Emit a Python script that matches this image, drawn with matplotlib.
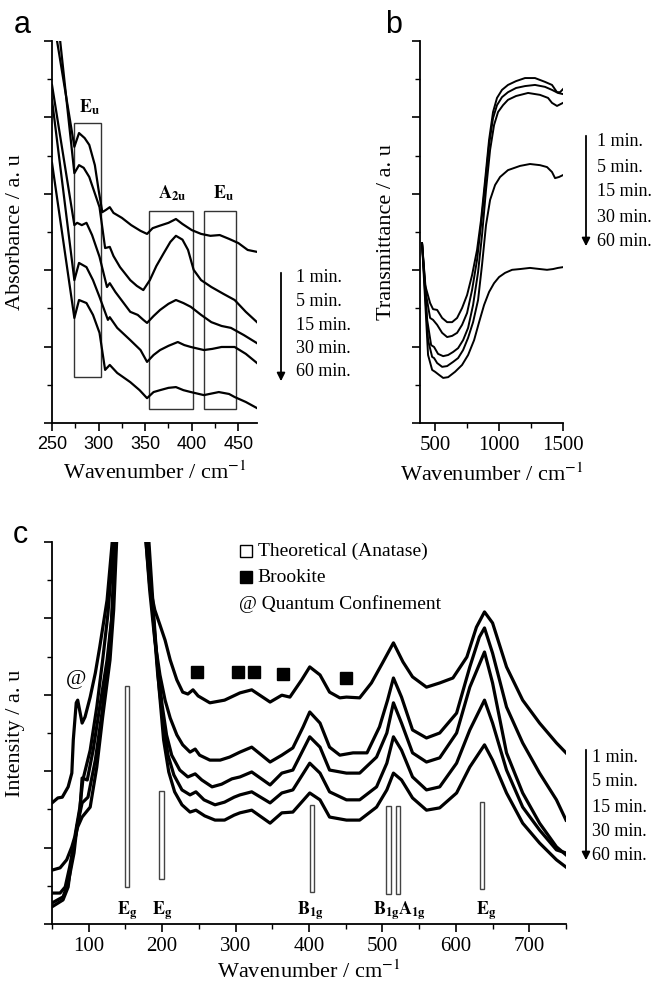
import numpy as np
import matplotlib
matplotlib.use("Agg")
import matplotlib.pyplot as plt
from matplotlib.ticker import MultipleLocator, NullFormatter
from matplotlib.patches import Rectangle

plt.rcParams['font.family'] = ['Liberation Serif', 'DejaVu Serif']
plt.rcParams['mathtext.fontset'] = 'stix'

times = ['1 min.', '5 min.', '15 min.', '30 min.', '60 min.']

# ---- panel a : absorbance ----
a_wn = [
    [250, 274, 279, 285, 290, 296, 300, 304, 308, 312, 316, 325, 335, 345, 352, 358, 365, 375, 383, 390, 400, 410, 420, 430, 440, 450, 460, 470],
    [250, 274, 279, 284, 290, 301, 307, 312, 316, 323, 334, 341, 348, 355, 362, 370, 377, 383, 390, 396, 402, 410, 421, 434, 446, 458, 470],
    [250, 274, 277, 282, 287, 293, 301, 309, 312, 318, 326, 334, 342, 348, 352, 359, 366, 375, 383, 391, 399, 410, 421, 432, 442, 456, 470],
    [250, 274, 279, 287, 294, 301, 310, 312, 320, 334, 345, 352, 359, 366, 375, 385, 392, 399, 413, 422, 432, 446, 458, 470],
    [250, 274, 279, 287, 294, 301, 307, 312, 320, 334, 344, 352, 359, 366, 375, 383, 391, 399, 413, 429, 440, 446, 458, 470],
]
a_abs = [
    [108.1, 72.3, 75.9, 74.6, 72.8, 67.5, 61.0, 55.2, 55.8, 56.5, 55.0, 53.7, 51.8, 50.3, 49.5, 51.0, 51.6, 52.4, 53.4, 52.1, 50.5, 49.5, 49.0, 49.2, 48.2, 47.1, 45.3, 44.8],
    [119.9, 65.4, 67.5, 66.8, 64.4, 56.5, 45.8, 46.1, 43.7, 40.8, 37.4, 35.9, 34.8, 37.4, 41.1, 44.5, 47.4, 49.0, 48.0, 45.3, 40.1, 37.4, 35.6, 33.8, 32.2, 29.1, 26.4],
    [88.5, 51.8, 52.4, 51.8, 52.4, 49.2, 43.5, 35.6, 36.6, 34.3, 31.7, 29.1, 28.3, 27.0, 26.2, 28.0, 29.6, 31.2, 32.2, 31.4, 30.4, 28.3, 26.4, 25.4, 24.9, 23.0, 20.9],
    [84.6, 37.4, 41.9, 40.8, 37.4, 33.0, 27.0, 27.7, 24.9, 21.7, 19.1, 16.0, 17.8, 19.1, 20.2, 21.2, 20.4, 19.9, 19.1, 19.4, 19.9, 19.9, 18.1, 15.7],
    [68.1, 27.5, 32.2, 31.4, 28.3, 23.6, 13.9, 15.2, 13.1, 10.7, 8.6, 6.5, 8.1, 8.6, 9.2, 9.4, 8.6, 8.1, 7.3, 8.1, 7.6, 6.8, 5.5, 3.9],
]
a_box_x = [(274, 303), (354, 401), (413, 447)]
a_box_y = [(12.0, 78.5), (3.7, 55.5), (3.7, 55.5)]
a_band_labels = [r'$\mathbf{E}_{\mathbf{u}}$', r'$\mathbf{A}_{\mathbf{2u}}$', r'$\mathbf{E}_{\mathbf{u}}$']
a_band_pos = [(290, 82.7), (379, 60.2), (434, 60.2)]

# ---- panel b : transmittance ----
b_wn = [
    [398, 422, 461, 484, 516, 555, 594, 633, 672, 711, 750, 789, 828, 859, 891, 922, 953, 984, 1023, 1070, 1133, 1203, 1281, 1359, 1414, 1453, 1477, 1500],
    [398, 430, 461, 484, 516, 555, 594, 633, 672, 711, 750, 789, 828, 859, 891, 922, 953, 984, 1023, 1070, 1133, 1203, 1281, 1359, 1414, 1461, 1500],
    [398, 438, 469, 492, 523, 563, 602, 641, 680, 719, 758, 797, 836, 867, 898, 930, 961, 992, 1031, 1070, 1133, 1227, 1320, 1383, 1414, 1453, 1500],
    [398, 445, 477, 492, 516, 555, 594, 641, 680, 719, 758, 797, 836, 867, 898, 930, 969, 1008, 1070, 1164, 1242, 1320, 1375, 1414, 1438, 1469, 1500],
    [398, 445, 477, 500, 531, 563, 602, 656, 711, 758, 805, 844, 883, 922, 961, 1000, 1047, 1102, 1164, 1242, 1320, 1375, 1422, 1461, 1500],
]
b_tr = [
    [47.1, 36.1, 31.4, 29.8, 29.6, 27.5, 26.4, 26.4, 27.5, 30.1, 33.5, 38.7, 45.3, 53.1, 63.6, 74.1, 81.4, 85.1, 87.2, 88.5, 89.5, 90.3, 90.3, 89.3, 88.5, 86.6, 86.6, 87.4],
    [47.1, 33.5, 27.5, 27.0, 25.7, 23.6, 22.5, 22.8, 23.6, 25.7, 28.8, 34.8, 42.7, 51.8, 62.3, 72.8, 79.8, 83.2, 85.3, 86.6, 87.7, 88.2, 88.5, 88.0, 87.2, 86.4, 86.1],
    [47.1, 27.0, 20.4, 19.9, 18.1, 17.5, 17.8, 18.6, 19.6, 21.7, 24.9, 30.9, 39.5, 49.2, 61.0, 71.5, 78.0, 81.4, 83.2, 84.6, 85.6, 86.4, 85.9, 85.1, 83.8, 83.0, 83.8],
    [47.1, 21.7, 17.3, 17.0, 15.7, 14.7, 14.9, 16.0, 17.0, 19.1, 22.3, 26.4, 32.2, 41.4, 51.8, 58.4, 62.3, 64.4, 66.2, 67.3, 67.8, 67.5, 67.0, 65.7, 64.1, 64.4, 64.9],
    [47.1, 17.8, 13.9, 13.4, 12.6, 11.8, 12.0, 13.4, 15.2, 17.8, 21.7, 26.4, 30.9, 34.3, 36.6, 38.2, 39.3, 40.1, 40.3, 40.6, 40.3, 40.1, 40.3, 40.6, 40.8],
]

# ---- panel c : Raman ----
c_left_wn = [
    [50, 58, 64, 72, 77, 79, 83, 85, 91, 95, 102, 109, 115, 125, 132, 137],
    [50, 61, 70, 77, 81, 88, 92, 102, 111, 119, 126, 134, 138],
    [50, 61, 68, 74, 81, 88, 91, 98, 106, 115, 125, 131, 136, 140],
    [50, 65, 72, 80, 84, 91, 99, 109, 118, 126, 132, 137, 141],
    [50, 65, 72, 77, 81, 85, 91, 102, 111, 119, 129, 134, 138, 142],
]
c_left_int = [
    [31.7, 33.0, 33.2, 35.9, 39.5, 48.2, 57.9, 58.6, 52.6, 54.2, 59.4, 65.7, 72.5, 84.8, 100, 111],
    [14.1, 14.7, 16.8, 20.2, 22.8, 30.6, 37.7, 45.5, 56.8, 69.1, 80.9, 100, 111],
    [8.1, 8.1, 9.7, 14.9, 22.0, 29.8, 38.2, 37.7, 45.5, 56.8, 69.1, 79.6, 100, 111],
    [5.5, 7.1, 10.7, 18.6, 25.4, 31.7, 33.2, 42.9, 55.2, 69.1, 80.9, 100, 111],
    [4.5, 6.3, 9.7, 17.5, 22.0, 25.4, 28.0, 30.6, 41.1, 54.2, 69.1, 82.2, 100, 111],
]
c_right_wn = [
    [175, 178, 183, 190, 197, 204, 211, 220, 228, 235, 242, 249, 265, 285, 306, 322, 347, 363, 374, 390, 401, 415, 428, 442, 451, 469, 485, 500, 515, 528, 541, 560, 578, 596, 615, 628, 639, 650, 669, 691, 714, 737, 750],
    [176, 178, 183, 190, 197, 204, 211, 220, 228, 238, 245, 251, 265, 279, 292, 306, 322, 347, 363, 378, 392, 401, 415, 428, 442, 460, 479, 496, 507, 515, 526, 541, 560, 578, 601, 619, 632, 639, 650, 669, 691, 714, 737, 750],
    [177, 179, 186, 193, 200, 206, 213, 224, 235, 245, 254, 268, 281, 295, 306, 322, 347, 363, 378, 401, 415, 428, 451, 469, 492, 506, 515, 526, 541, 560, 578, 601, 619, 639, 650, 669, 691, 714, 737, 750],
    [178, 181, 187, 194, 201, 208, 216, 227, 238, 246, 257, 272, 285, 298, 306, 322, 347, 363, 378, 401, 415, 428, 451, 469, 492, 506, 515, 526, 541, 560, 578, 601, 619, 639, 650, 669, 691, 714, 737, 750],
    [179, 182, 189, 196, 202, 209, 217, 227, 238, 246, 258, 272, 285, 298, 306, 322, 347, 363, 378, 401, 415, 428, 451, 469, 492, 506, 515, 526, 541, 560, 578, 601, 619, 639, 650, 669, 691, 714, 737, 750],
]
c_right_int = [
    [111, 100, 88.7, 82.2, 78.3, 74.3, 69.1, 63.9, 60.7, 60.2, 61.3, 59.7, 57.9, 58.6, 60.5, 61.3, 58.1, 59.9, 59.4, 63.9, 67.3, 65.2, 60.7, 59.2, 59.4, 59.2, 63.1, 68.3, 73.6, 68.6, 64.7, 62.0, 63.1, 64.4, 69.9, 77.7, 81.7, 78.8, 67.3, 58.6, 52.6, 47.4, 44.8],
    [111, 100, 87.4, 74.3, 65.2, 58.6, 53.9, 49.5, 46.9, 45.0, 45.8, 44.2, 42.9, 42.9, 43.7, 45.0, 46.3, 42.4, 44.2, 46.1, 51.6, 55.5, 52.6, 46.3, 44.2, 44.8, 44.8, 51.6, 58.6, 64.4, 59.4, 50.8, 48.7, 50.0, 55.2, 67.3, 75.1, 77.5, 70.9, 56.8, 47.4, 39.5, 32.5, 27.2],
    [111, 100, 84.8, 69.1, 57.3, 49.5, 44.2, 40.3, 38.5, 39.3, 37.7, 35.9, 36.6, 38.0, 38.5, 39.8, 36.4, 39.5, 40.3, 49.0, 46.3, 40.3, 39.5, 39.5, 43.7, 50.0, 57.9, 52.6, 44.8, 42.4, 43.5, 50.0, 62.0, 71.2, 63.1, 44.8, 34.3, 26.4, 20.2, 18.1],
    [111, 100, 82.2, 65.2, 53.4, 44.2, 39.0, 35.1, 33.8, 34.6, 32.5, 31.2, 31.9, 33.2, 33.8, 34.6, 31.7, 34.3, 35.1, 42.1, 39.5, 34.6, 32.5, 32.5, 35.9, 42.1, 49.0, 45.5, 38.5, 35.1, 35.9, 42.1, 50.8, 58.6, 52.6, 40.3, 30.6, 24.6, 19.4, 18.6],
    [111, 100, 79.6, 61.3, 48.2, 39.8, 34.6, 31.2, 29.3, 29.8, 28.3, 27.2, 27.2, 28.5, 29.1, 29.8, 26.4, 29.1, 29.3, 34.3, 32.5, 28.0, 27.2, 27.2, 30.6, 35.1, 39.5, 37.7, 33.0, 29.8, 30.4, 34.3, 41.1, 46.9, 42.9, 34.3, 26.4, 21.2, 16.8, 14.9],
]
# theoretical anatase bars (position, bottom, top) and labels
bar_wn = [152, 199, 404, 508, 521, 636]
bar_lo = [9.7, 11.8, 8.4, 7.9, 7.9, 9.2]
bar_hi = [62.3, 34.8, 31.2, 30.9, 30.9, 31.9]
bar_labels = [r'$\mathbf{E}_{\mathbf{g}}$', r'$\mathbf{E}_{\mathbf{g}}$', r'$\mathbf{B}_{\mathbf{1g}}$',
              r'$\mathbf{B}_{\mathbf{1g}}$', r'$\mathbf{A}_{\mathbf{1g}}$', r'$\mathbf{E}_{\mathbf{g}}$']
bar_label_wn = [152, 200, 402, 505, 540, 641]
brookite_wn = [247, 303, 325, 364, 450]
brookite_int = [66.0, 66.0, 66.0, 65.5, 64.4]


W, H = 657, 990
def fx(x):
    return x / W
def fy(y):
    return 1 - y / H

fig = plt.figure(figsize=(6.57, 9.9), dpi=100)
ax_a = fig.add_axes([fx(52), fy(423), fx(257) - fx(52), fy(41) - fy(423)])
ax_b = fig.add_axes([fx(420), fy(423), fx(563) - fx(420), fy(41) - fy(423)])
ax_c = fig.add_axes([fx(52), fy(924), fx(566) - fx(52), fy(542) - fy(924)])

for ax in (ax_a, ax_b, ax_c):
    ax.spines['top'].set_visible(False)
    ax.spines['right'].set_visible(False)
    for s in ('left', 'bottom'):
        ax.spines[s].set_linewidth(1.3)
    ax.set_ylim(0, 100)
    ax.yaxis.set_major_locator(MultipleLocator(20))
    ax.yaxis.set_minor_locator(MultipleLocator(10))
    ax.yaxis.set_major_formatter(NullFormatter())
    ax.tick_params(which='major', direction='out', length=6, width=1.2)
    ax.tick_params(which='minor', direction='out', length=3.5, width=1.0)

# panel a
for x, y in zip(a_wn, a_abs):
    ax_a.plot(x, y, color='black', lw=1.6)
for (x0, x1), (y0, y1) in zip(a_box_x, a_box_y):
    ax_a.add_patch(Rectangle((x0, y0), x1 - x0, y1 - y0, fill=False, ec='#333333', lw=1.0))
for lab, (x, y) in zip(a_band_labels, a_band_pos):
    ax_a.text(x, y, lab, ha='center', va='center', fontsize=13)
ax_a.set_xlim(250, 470)
ax_a.xaxis.set_major_locator(MultipleLocator(50))
ax_a.xaxis.set_minor_locator(MultipleLocator(25))
for t in ax_a.get_xticklabels():
    t.set_family('Liberation Sans')
ax_a.tick_params(axis='x', labelsize=13)
ax_a.set_ylabel('Absorbance / a. u', fontsize=16, labelpad=10)
ax_a.set_xlabel('Wavenumber / cm$^{-1}$', fontsize=16, labelpad=6)

# panel b
for x, y in zip(b_wn, b_tr):
    ax_b.plot(x, y, color='black', lw=1.4)
ax_b.set_xlim(382, 1500)
ax_b.xaxis.set_major_locator(MultipleLocator(500))
ax_b.xaxis.set_minor_locator(MultipleLocator(250))
ax_b.tick_params(axis='x', labelsize=15)
ax_b.set_ylabel('Transmittance / a. u', fontsize=16, labelpad=8)
ax_b.set_xlabel('Wavenumber / cm$^{-1}$', fontsize=16, labelpad=6)

# panel c
for xl, yl, xr, yr in zip(c_left_wn, c_left_int, c_right_wn, c_right_int):
    ax_c.plot(xl, yl, color='black', lw=2.3)
    ax_c.plot(xr, yr, color='black', lw=2.3)
for x, lo, hi in zip(bar_wn, bar_lo, bar_hi):
    ax_c.add_patch(Rectangle((x - 3, lo), 6, hi - lo, fill=True, fc='white', ec='#444444', lw=1.0, zorder=3))
for lab, x in zip(bar_labels, bar_label_wn):
    ax_c.text(x, 6.5, lab, ha='center', va='top', fontsize=13)
ax_c.plot(brookite_wn, brookite_int, 's', color='black', ms=8, ls='none')
ax_c.text(83, 64.0, '@', ha='center', va='center', fontsize=16)
ax_c.plot([314], [97.6], 's', mfc='white', mec='black', mew=1.0, ms=8)
ax_c.plot([314], [90.8], 's', color='black', ms=8)
ax_c.text(330, 97.6, 'Theoretical (Anatase)', va='center', fontsize=14)
ax_c.text(330, 90.8, 'Brookite', va='center', fontsize=14)
ax_c.text(304, 83.8, '@ Quantum Confinement', va='center', fontsize=14)
ax_c.set_xlim(50, 750)
ax_c.xaxis.set_major_locator(MultipleLocator(100))
ax_c.xaxis.set_minor_locator(MultipleLocator(50))
ax_c.tick_params(axis='x', labelsize=15)
ax_c.set_ylabel('Intensity / a. u', fontsize=16, labelpad=10)
ax_c.set_xlabel('Wavenumber / cm$^{-1}$', fontsize=16, labelpad=3)

# legends with arrows
def arrow_legend(ax, xa, y0, y1, xt, ys):
    ax.annotate('', xy=(fx(xa), fy(y1)), xytext=(fx(xa), fy(y0)),
                xycoords='figure fraction', textcoords='figure fraction',
                arrowprops=dict(arrowstyle='-|>', color='black', lw=1.3, mutation_scale=12))
    for lab, y in zip(times, ys):
        fig.text(fx(xt), fy(y), lab, va='center', ha='left', fontsize=13)

arrow_legend(ax_a, 281, 270, 384, 296, [277, 301, 325, 349, 372])
arrow_legend(ax_b, 586, 133, 249, 597, [142, 167, 192, 217, 241])
arrow_legend(ax_c, 586, 747, 863, 592, [757, 782, 807, 831, 856])

# panel letters
for lab, x, y in [('a', 22, 25), ('b', 394, 25), ('c', 20, 535)]:
    fig.text(fx(x), fy(y), lab, ha='center', va='center', fontsize=22, family='Liberation Sans')

fig.savefig('out.png', dpi=100)
